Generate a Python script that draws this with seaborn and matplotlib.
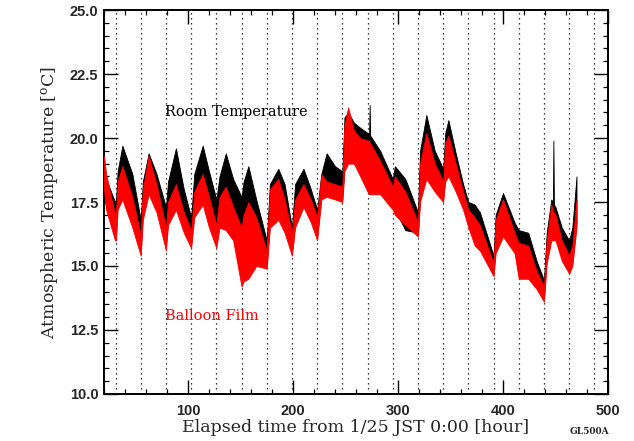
import numpy as np
import pandas as pd
import matplotlib
matplotlib.use("Agg")
import matplotlib.pyplot as plt
import seaborn as sns
from matplotlib.ticker import MultipleLocator, FormatStrFormatter

# ---- data ----
time = [20, 22, 30.5, 31.5, 33, 37.5, 47, 55, 57, 62.5, 70, 79, 81, 88.5, 96,
        103, 106, 114, 120, 127, 130, 136, 143, 151, 153, 157.5, 165, 175, 178,
        186, 192, 199, 202, 210, 217, 223, 227, 232, 240, 247, 249, 252.5, 258,
        264, 271, 272.5, 273, 273.5, 283, 295, 297, 307, 319, 321, 327, 335,
        343, 345, 348, 355, 362, 367, 373, 378, 391, 393, 400, 411, 415, 424,
        432, 439, 441.6, 446, 447.5, 448, 448.5, 450, 456, 463, 466, 470]
film_low = [18.0, 17.2, 16.0, 16.0, 17.2, 17.6, 16.5, 15.4, 16.8, 17.8, 17.1, 15.6,
            16.6, 17.2, 16.3, 15.7, 16.9, 17.4, 16.5, 15.7, 16.5, 16.4, 16.0, 14.2,
            14.4, 14.5, 15.0, 14.9, 16.5, 16.8, 16.3, 15.4, 16.5, 17.3, 16.7, 16.0,
            17.6, 17.7, 17.6, 17.5, 18.7, 19.0, 19.0, 18.5, 17.9, 17.8, 17.8, 17.8,
            17.8, 17.2, 17.0, 16.6, 16.15, 17.5, 18.4, 17.9, 17.5, 18.3, 18.5, 17.9,
            17.2, 16.5, 15.8, 15.6, 14.6, 15.5, 16.15, 15.5, 14.5, 14.5, 14.1, 13.6,
            15.1, 16.0, 16.0, 16.0, 16.0, 16.0, 15.2, 14.7, 15.0, 16.5]
film_high = [19.3, 18.6, 17.0, 17.1, 18.3, 18.9, 17.7, 16.2, 18.0, 19.3, 18.2, 16.5,
             17.5, 18.2, 17.1, 16.4, 17.9, 18.6, 17.7, 16.6, 17.7, 18.1, 17.3, 16.5,
             17.0, 17.5, 16.9, 15.6, 18.0, 18.4, 17.6, 16.3, 17.6, 18.2, 17.6, 16.9,
             18.6, 18.3, 18.2, 18.1, 20.5, 21.2, 20.3, 20.0, 19.9, 19.9, 19.8, 19.8,
             19.1, 18.1, 18.5, 17.9, 16.7, 19.0, 20.2, 19.0, 18.3, 19.8, 20.1, 19.0,
             17.9, 17.2, 16.9, 16.6, 15.1, 16.8, 17.6, 16.3, 15.9, 15.8, 14.8, 14.2,
             16.0, 17.4, 17.2, 17.1, 17.1, 17.0, 16.0, 15.4, 15.8, 17.6]
room_low = [18.0, 17.3, 16.4, 16.4, 17.5, 17.8, 16.8, 15.7, 17.0, 18.0, 17.3, 15.9,
            16.8, 17.4, 16.5, 15.9, 17.1, 17.6, 16.8, 16.0, 16.7, 16.6, 16.2, 14.4,
            14.5, 14.7, 15.2, 15.1, 16.7, 17.0, 16.5, 15.6, 16.7, 17.4, 16.9, 16.2,
            17.8, 17.9, 17.8, 17.7, 18.9, 19.2, 19.2, 18.7, 18.1, 18.0, 18.0, 18.0,
            18.0, 17.4, 17.2, 16.4, 16.3, 17.7, 18.6, 18.1, 17.7, 18.5, 18.7, 18.1,
            17.4, 16.7, 16.0, 15.8, 14.8, 15.7, 16.3, 15.7, 14.7, 14.7, 14.3, 13.8,
            15.3, 16.2, 16.2, 16.2, 16.2, 16.2, 15.4, 14.9, 15.2, 16.7]
room_high = [18.6, 18.4, 17.5, 17.6, 18.7, 19.7, 18.6, 16.8, 18.3, 19.4, 18.6, 17.3,
             18.3, 19.6, 18.0, 16.9, 18.6, 19.7, 18.7, 17.6, 18.5, 19.4, 18.4, 17.7,
             18.3, 18.9, 17.6, 16.0, 18.2, 18.8, 18.2, 16.5, 18.2, 18.8, 18.0, 17.2,
             18.6, 19.4, 18.9, 18.7, 20.8, 21.0, 20.6, 20.4, 20.2, 20.2, 21.3, 20.1,
             19.5, 18.4, 18.9, 18.4, 17.1, 19.5, 20.9, 19.5, 18.8, 20.2, 20.7, 19.4,
             18.2, 17.5, 17.4, 17.1, 15.4, 17.0, 17.85, 16.7, 16.4, 16.3, 15.2, 14.45,
             16.3, 17.6, 17.5, 19.9, 17.4, 17.3, 16.5, 16.0, 16.5, 18.5]
day_marks = list(range(31, 490, 24))
x_ticks = [100, 200, 300, 400, 500]
y_ticks = [10.0, 12.5, 15.0, 17.5, 20.0, 22.5, 25.0]

# ---- style ----
sns.set_style("ticks")
plt.rcParams['font.family'] = ['DejaVu Serif']
plt.rcParams['mathtext.fontset'] = 'dejavuserif'

fig = plt.figure(figsize=(6.34, 4.41), dpi=100)
ax = fig.add_axes([0.164, 0.1066, 0.795, 0.8707])

for d in day_marks:
    ax.axvline(d, color='black', ls=(0, (1, 3)), lw=0.9, zorder=1)

room = pd.DataFrame({'t': time + time, 'v': room_low + room_high})
film = pd.DataFrame({'t': time + time, 'v': film_low + film_high})

sns.lineplot(data=room, x='t', y='v', estimator='mean', errorbar=('pi', 100),
             color='black', lw=0, ax=ax,
             err_kws={'alpha': 1, 'linewidth': 0.6, 'edgecolor': 'black', 'zorder': 2})
sns.lineplot(data=film, x='t', y='v', estimator='mean', errorbar=('pi', 100),
             color='red', lw=0, ax=ax,
             err_kws={'alpha': 1, 'linewidth': 0.6, 'edgecolor': 'red', 'zorder': 3})

ax.set_xlim(20, 500)
ax.set_ylim(10, 25)
ax.set_xticks(x_ticks)
ax.set_yticks(y_ticks)
ax.xaxis.set_minor_locator(MultipleLocator(20))
ax.yaxis.set_minor_locator(MultipleLocator(0.5))
ax.yaxis.set_major_formatter(FormatStrFormatter('%.1f'))
ax.tick_params(which='major', direction='in', top=True, right=True,
               length=10, width=1.0, color='black', labelsize=10.5)
ax.tick_params(which='minor', direction='in', top=True, right=True,
               length=3.8, width=0.9, color='black')
ax.tick_params(axis='x', pad=7)
ax.tick_params(axis='y', pad=4)
for lbl in ax.get_xticklabels() + ax.get_yticklabels():
    lbl.set_fontfamily('Liberation Sans')
    lbl.set_fontweight('bold')
for s in ax.spines.values():
    s.set_linewidth(1.4)
    s.set_color('black')

ax.set_xlabel('Elapsed time from 1/25 JST 0:00 [hour]', fontsize=12.5, labelpad=1)
ax.set_ylabel('Atmospheric Temperature [$^{\\rm o}$C]', fontsize=12.5, labelpad=6)

ax.text(78, 21.0, 'Room Temperature', color='black', fontsize=10.5,
        ha='left', va='center')
ax.text(78, 13.05, 'Balloon Film', color='red', fontsize=10.5,
        ha='left', va='center')
fig.text(0.930, 0.021, 'GL500A', fontsize=6.5, fontweight='bold',
         ha='center', va='center')

fig.savefig('out.png', dpi=100)
